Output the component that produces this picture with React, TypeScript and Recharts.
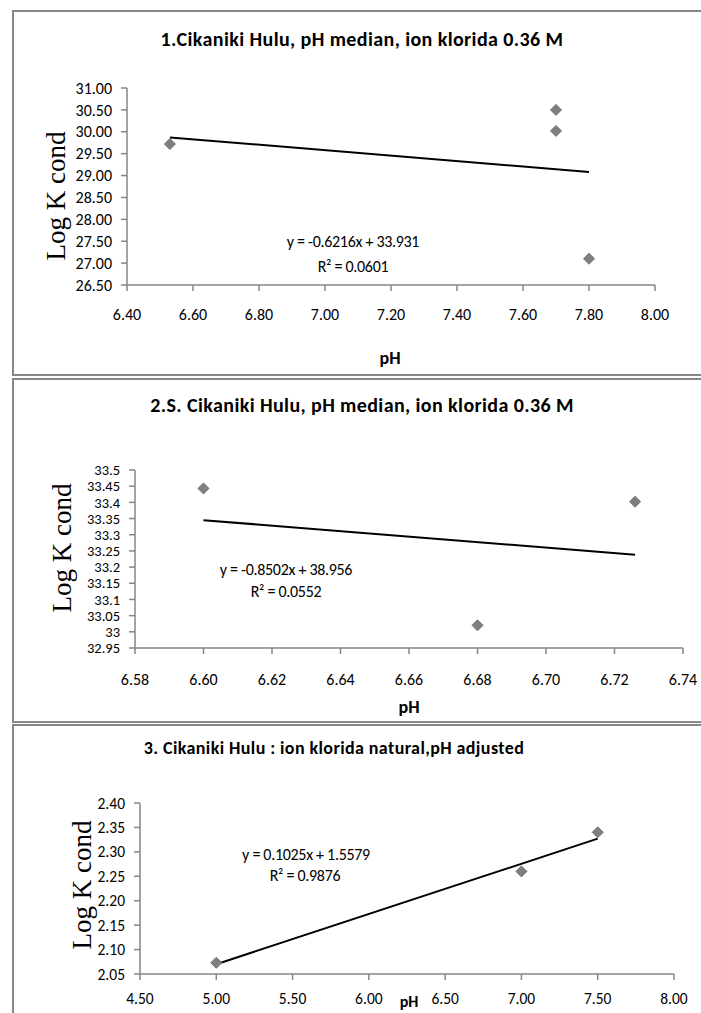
import React from "react";
import { ScatterChart, Scatter, XAxis, YAxis } from "recharts";

// panel 1: pH median, 0.36 M
const P1_POINTS = [
  { x: 6.53, y: 29.72 },
  { x: 7.7, y: 30.5 },
  { x: 7.7, y: 30.02 },
  { x: 7.8, y: 27.1 },
];
const P1_TREND = [
  { x: 6.53, y: 29.872 },
  { x: 7.8, y: 29.083 },
];
const P1_XTICKS = [6.4, 6.6, 6.8, 7.0, 7.2, 7.4, 7.6, 7.8, 8.0];
const P1_YTICKS = [26.5, 27, 27.5, 28, 28.5, 29, 29.5, 30, 30.5, 31];

// panel 2: S. Cikaniki Hulu
const P2_POINTS = [
  { x: 6.6, y: 33.443 },
  { x: 6.68, y: 33.02 },
  { x: 6.726, y: 33.402 },
];
const P2_TREND = [
  { x: 6.6, y: 33.345 },
  { x: 6.726, y: 33.238 },
];
const P2_XTICKS = [6.58, 6.6, 6.62, 6.64, 6.66, 6.68, 6.7, 6.72, 6.74];
const P2_YTICKS = [32.95, 33, 33.05, 33.1, 33.15, 33.2, 33.25, 33.3, 33.35, 33.4, 33.45, 33.5];

// panel 3: natural chloride, pH adjusted
const P3_POINTS = [
  { x: 5.0, y: 2.073 },
  { x: 7.0, y: 2.26 },
  { x: 7.5, y: 2.34 },
];
const P3_TREND = [
  { x: 5.0, y: 2.07 },
  { x: 7.5, y: 2.327 },
];
const P3_XTICKS = [4.5, 5.0, 5.5, 6.0, 6.5, 7.0, 7.5, 8.0];
const P3_YTICKS = [2.05, 2.1, 2.15, 2.2, 2.25, 2.3, 2.35, 2.4];

const FONT = "Carlito, 'Liberation Sans Narrow', Lato, sans-serif";
const SERIF = "'Liberation Serif', 'DejaVu Serif', serif";
const GRID = "#868686";
const BORDER = "#888888";

const Diamond = (props: any) => {
  const { cx, cy } = props;
  if (cx == null || cy == null) return <g />;
  const r = 5.5;
  return (
    <polygon
      points={`${cx},${cy - r} ${cx + r},${cy} ${cx},${cy + r} ${cx - r},${cy}`}
      fill="#7f7f7f"
      stroke="#737373"
      strokeWidth={1}
    />
  );
};

const NoDot = () => <g />;

function Txt({ x, y, children, style }: { x: number; y: number; children: React.ReactNode; style?: React.CSSProperties }) {
  return (
    <div
      style={{
        position: "absolute",
        left: x,
        top: y,
        transform: "translate(-50%, -50%)",
        whiteSpace: "nowrap",
        fontFamily: FONT,
        fontSize: 16,
        color: "#000",
        lineHeight: 1,
        ...style,
      }}
    >
      {children}
    </div>
  );
}

function YLabel({ x, y }: { x: number; y: number }) {
  return (
    <div
      style={{
        position: "absolute",
        left: x,
        top: y,
        transform: "translate(-50%, -50%) rotate(-90deg)",
        whiteSpace: "nowrap",
        fontFamily: SERIF,
        fontSize: 27,
        lineHeight: 1,
        color: "#000",
      }}
    >
      Log K cond
    </div>
  );
}

interface PanelProps {
  top: number;
  height: number;
  margin: { top: number; right: number; bottom: number; left: number };
  points: { x: number; y: number }[];
  trend: { x: number; y: number }[];
  xTicks: number[];
  yTicks: number[];
  xMargin: number;
  fontSize: number;
  yFontSize: number;
  yFormat: (v: number) => string;
}

function Panel({ top, height, margin, points, trend, xTicks, yTicks, xMargin, fontSize, yFontSize, yFormat }: PanelProps) {
  return (
    <div style={{ position: "absolute", left: 0, top }}>
      <ScatterChart width={701} height={height} margin={margin}>
        <XAxis
          type="number"
          dataKey="x"
          domain={[xTicks[0], xTicks[xTicks.length - 1]]}
          ticks={xTicks}
          interval={0}
          height={30}
          tickSize={6}
          tickMargin={xMargin}
          axisLine={{ stroke: GRID, strokeWidth: 1.5 }}
          tickLine={{ stroke: GRID, strokeWidth: 1.5 }}
          tick={{ fontSize, fill: "#000", fontFamily: FONT }}
          tickFormatter={(v: number) => v.toFixed(2)}
        />
        <YAxis
          type="number"
          dataKey="y"
          domain={[yTicks[0], yTicks[yTicks.length - 1]]}
          ticks={yTicks}
          interval={0}
          width={60}
          tickSize={6}
          tickMargin={9}
          axisLine={{ stroke: GRID, strokeWidth: 1.5 }}
          tickLine={{ stroke: GRID, strokeWidth: 1.5 }}
          tick={{ fontSize: yFontSize, fill: "#000", fontFamily: FONT }}
          tickFormatter={yFormat}
        />
        <Scatter
          data={trend}
          line={{ stroke: "#000", strokeWidth: 2 }}
          shape={NoDot}
          isAnimationActive={false}
        />
        <Scatter data={points} shape={Diamond} isAnimationActive={false} />
      </ScatterChart>
    </div>
  );
}

export default function App() {
  const fix2 = (v: number) => v.toFixed(2);
  const general = (v: number) => String(Number(v.toFixed(2)));
  return (
    <div
      style={{
        position: "absolute",
        left: 0,
        top: 0,
        width: 701,
        height: 1013,
        overflow: "hidden",
        background: "#fff",
      }}
    >
      {/* frames */}
      <div style={{ position: "absolute", left: 12, top: 10, width: 700, height: 366, boxSizing: "border-box", borderLeft: `2px solid ${BORDER}`, borderTop: `2px solid ${BORDER}`, borderBottom: `2px solid ${BORDER}` }} />
      <div style={{ position: "absolute", left: 12, top: 378, width: 700, height: 345, boxSizing: "border-box", borderLeft: `2px solid ${BORDER}`, borderTop: `2px solid ${BORDER}`, borderBottom: `2px solid ${BORDER}` }} />
      <div style={{ position: "absolute", left: 12, top: 724, width: 700, height: 400, boxSizing: "border-box", borderLeft: `2px solid ${BORDER}`, borderTop: `2px solid ${BORDER}` }} />

      <Panel
        top={0}
        height={375}
        margin={{ top: 88, right: 46, bottom: 60, left: 67 }}
        points={P1_POINTS}
        trend={P1_TREND}
        xTicks={P1_XTICKS}
        yTicks={P1_YTICKS}
        xMargin={18}
        fontSize={16}
        yFontSize={16}
        yFormat={fix2}
      />
      <Panel
        top={378}
        height={344}
        margin={{ top: 92, right: 18, bottom: 44, left: 75 }}
        points={P2_POINTS}
        trend={P2_TREND}
        xTicks={P2_XTICKS}
        yTicks={P2_YTICKS}
        xMargin={20}
        fontSize={16}
        yFontSize={14.5}
        yFormat={general}
      />
      <Panel
        top={724}
        height={289}
        margin={{ top: 79, right: 27, bottom: 9, left: 80 }}
        points={P3_POINTS}
        trend={P3_TREND}
        xTicks={P3_XTICKS}
        yTicks={P3_YTICKS}
        xMargin={13}
        fontSize={15.5}
        yFontSize={15.5}
        yFormat={fix2}
      />

      {/* titles */}
      <Txt x={362} y={39} style={{ fontWeight: 700, fontSize: 20, letterSpacing: 0.4 }}>
        1.Cikaniki Hulu, pH median, ion klorida 0.36 M
      </Txt>
      <Txt x={362} y={405} style={{ fontWeight: 700, fontSize: 20, letterSpacing: 0.4 }}>
        2.S. Cikaniki Hulu, pH median, ion klorida 0.36 M
      </Txt>
      <Txt x={334} y={748} style={{ fontWeight: 700, fontSize: 18, letterSpacing: 0.4 }}>
        3. Cikaniki Hulu : ion klorida natural,pH adjusted
      </Txt>

      {/* axis titles */}
      <Txt x={390} y={358} style={{ fontWeight: 700, fontSize: 18 }}>pH</Txt>
      <Txt x={409} y={707} style={{ fontWeight: 700, fontSize: 18 }}>pH</Txt>
      <Txt x={409} y={1002} style={{ fontWeight: 700, fontSize: 16 }}>pH</Txt>
      <YLabel x={56} y={196} />
      <YLabel x={62} y={548} />
      <YLabel x={82} y={885} />

      {/* trendline equations */}
      <Txt x={353} y={242} style={{ letterSpacing: -0.3 }}>y = -0.6216x + 33.931</Txt>
      <Txt x={353} y={267} style={{ letterSpacing: -0.3 }}>R² = 0.0601</Txt>
      <Txt x={286} y={570} style={{ letterSpacing: -0.3 }}>y = -0.8502x + 38.956</Txt>
      <Txt x={286} y={592} style={{ letterSpacing: -0.3 }}>R² = 0.0552</Txt>
      <Txt x={306} y={855} style={{ letterSpacing: -0.3 }}>y = 0.1025x + 1.5579</Txt>
      <Txt x={305} y={876} style={{ letterSpacing: -0.3 }}>R² = 0.9876</Txt>
    </div>
  );
}
